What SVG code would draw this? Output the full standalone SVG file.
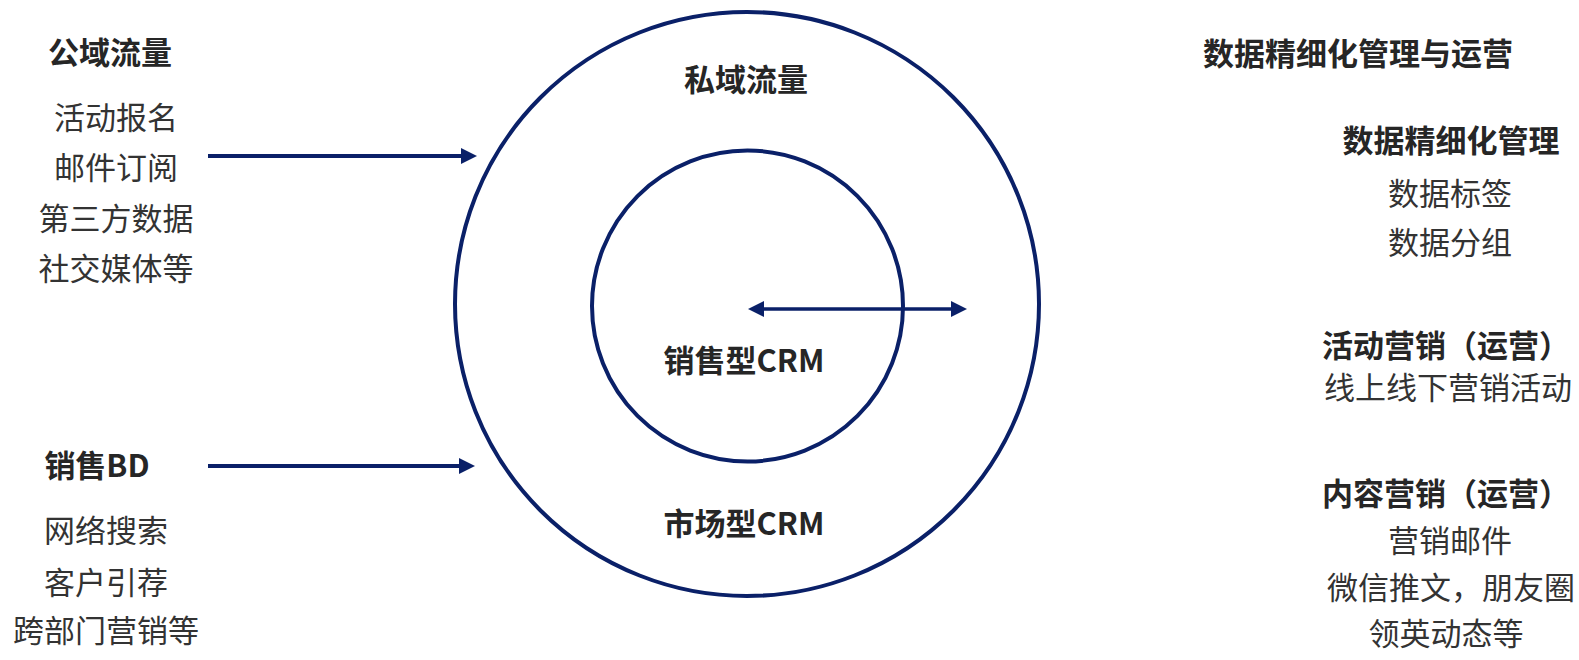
<svg xmlns="http://www.w3.org/2000/svg" width="1579" height="660" viewBox="0 0 1579 660">
<style>
  text { font-family: "Noto Sans CJK SC", "Noto Sans", sans-serif; font-size: 31px; fill: #333333; text-anchor: middle; }
  .b { font-weight: bold; fill: #262626; }
  .ring { fill: none; stroke: #0a2068; stroke-width: 4; }
  .conn { stroke: #0a2068; stroke-width: 4; fill: none; }
</style>
<defs>
  <marker id="ah" viewBox="0 0 16 16" refX="8" refY="8" markerWidth="16" markerHeight="16" markerUnits="userSpaceOnUse" orient="auto-start-reverse">
    <path d="M0,0 L16,8 L0,16 z" fill="#0a2068"/>
  </marker>
</defs>
<rect width="1579" height="660" fill="#ffffff"/>

<g id="outer-circle">
  <circle class="ring" cx="747" cy="304" r="292"/>
  <text class="b" x="746" y="91">私域流量</text>
  <text class="b" x="744" y="535">市场型CRM</text>
</g>
<g id="inner-circle">
  <circle class="ring" cx="747.5" cy="306" r="155.5"/>
  <text class="b" x="744" y="372">销售型CRM</text>
</g>

<g id="public-traffic">
  <text class="b" x="110" y="64">公域流量</text>
  <text x="116" y="129">活动报名</text>
  <text x="116" y="179">邮件订阅</text>
  <text x="116" y="230">第三方数据</text>
  <text x="116" y="280">社交媒体等</text>
</g>

<g id="sales-bd">
  <text class="b" x="97" y="477">销售BD</text>
  <text x="106" y="542">网络搜索</text>
  <text x="106" y="594">客户引荐</text>
  <text x="106" y="642">跨部门营销等</text>
</g>

<g id="data-ops">
  <text class="b" x="1358" y="65">数据精细化管理与运营</text>
  <text class="b" x="1451" y="152">数据精细化管理</text>
  <text x="1450" y="205">数据标签</text>
  <text x="1450" y="254">数据分组</text>
  <text class="b" x="1446" y="357">活动营销（运营）</text>
  <text x="1448" y="399">线上线下营销活动</text>
  <text class="b" x="1446" y="505">内容营销（运营）</text>
  <text x="1450" y="552">营销邮件</text>
  <text x="1451" y="599">微信推文，朋友圈</text>
  <text x="1446" y="645">领英动态等</text>
</g>

<g id="connectors">
  <line class="conn" x1="208" y1="156" x2="469" y2="156" marker-end="url(#ah)"/>
  <line class="conn" x1="208" y1="466" x2="467" y2="466" marker-end="url(#ah)"/>
  <line class="conn" style="stroke-width:3.5" x1="756" y1="309" x2="959" y2="309" marker-start="url(#ah)" marker-end="url(#ah)"/>
</g>
</svg>
